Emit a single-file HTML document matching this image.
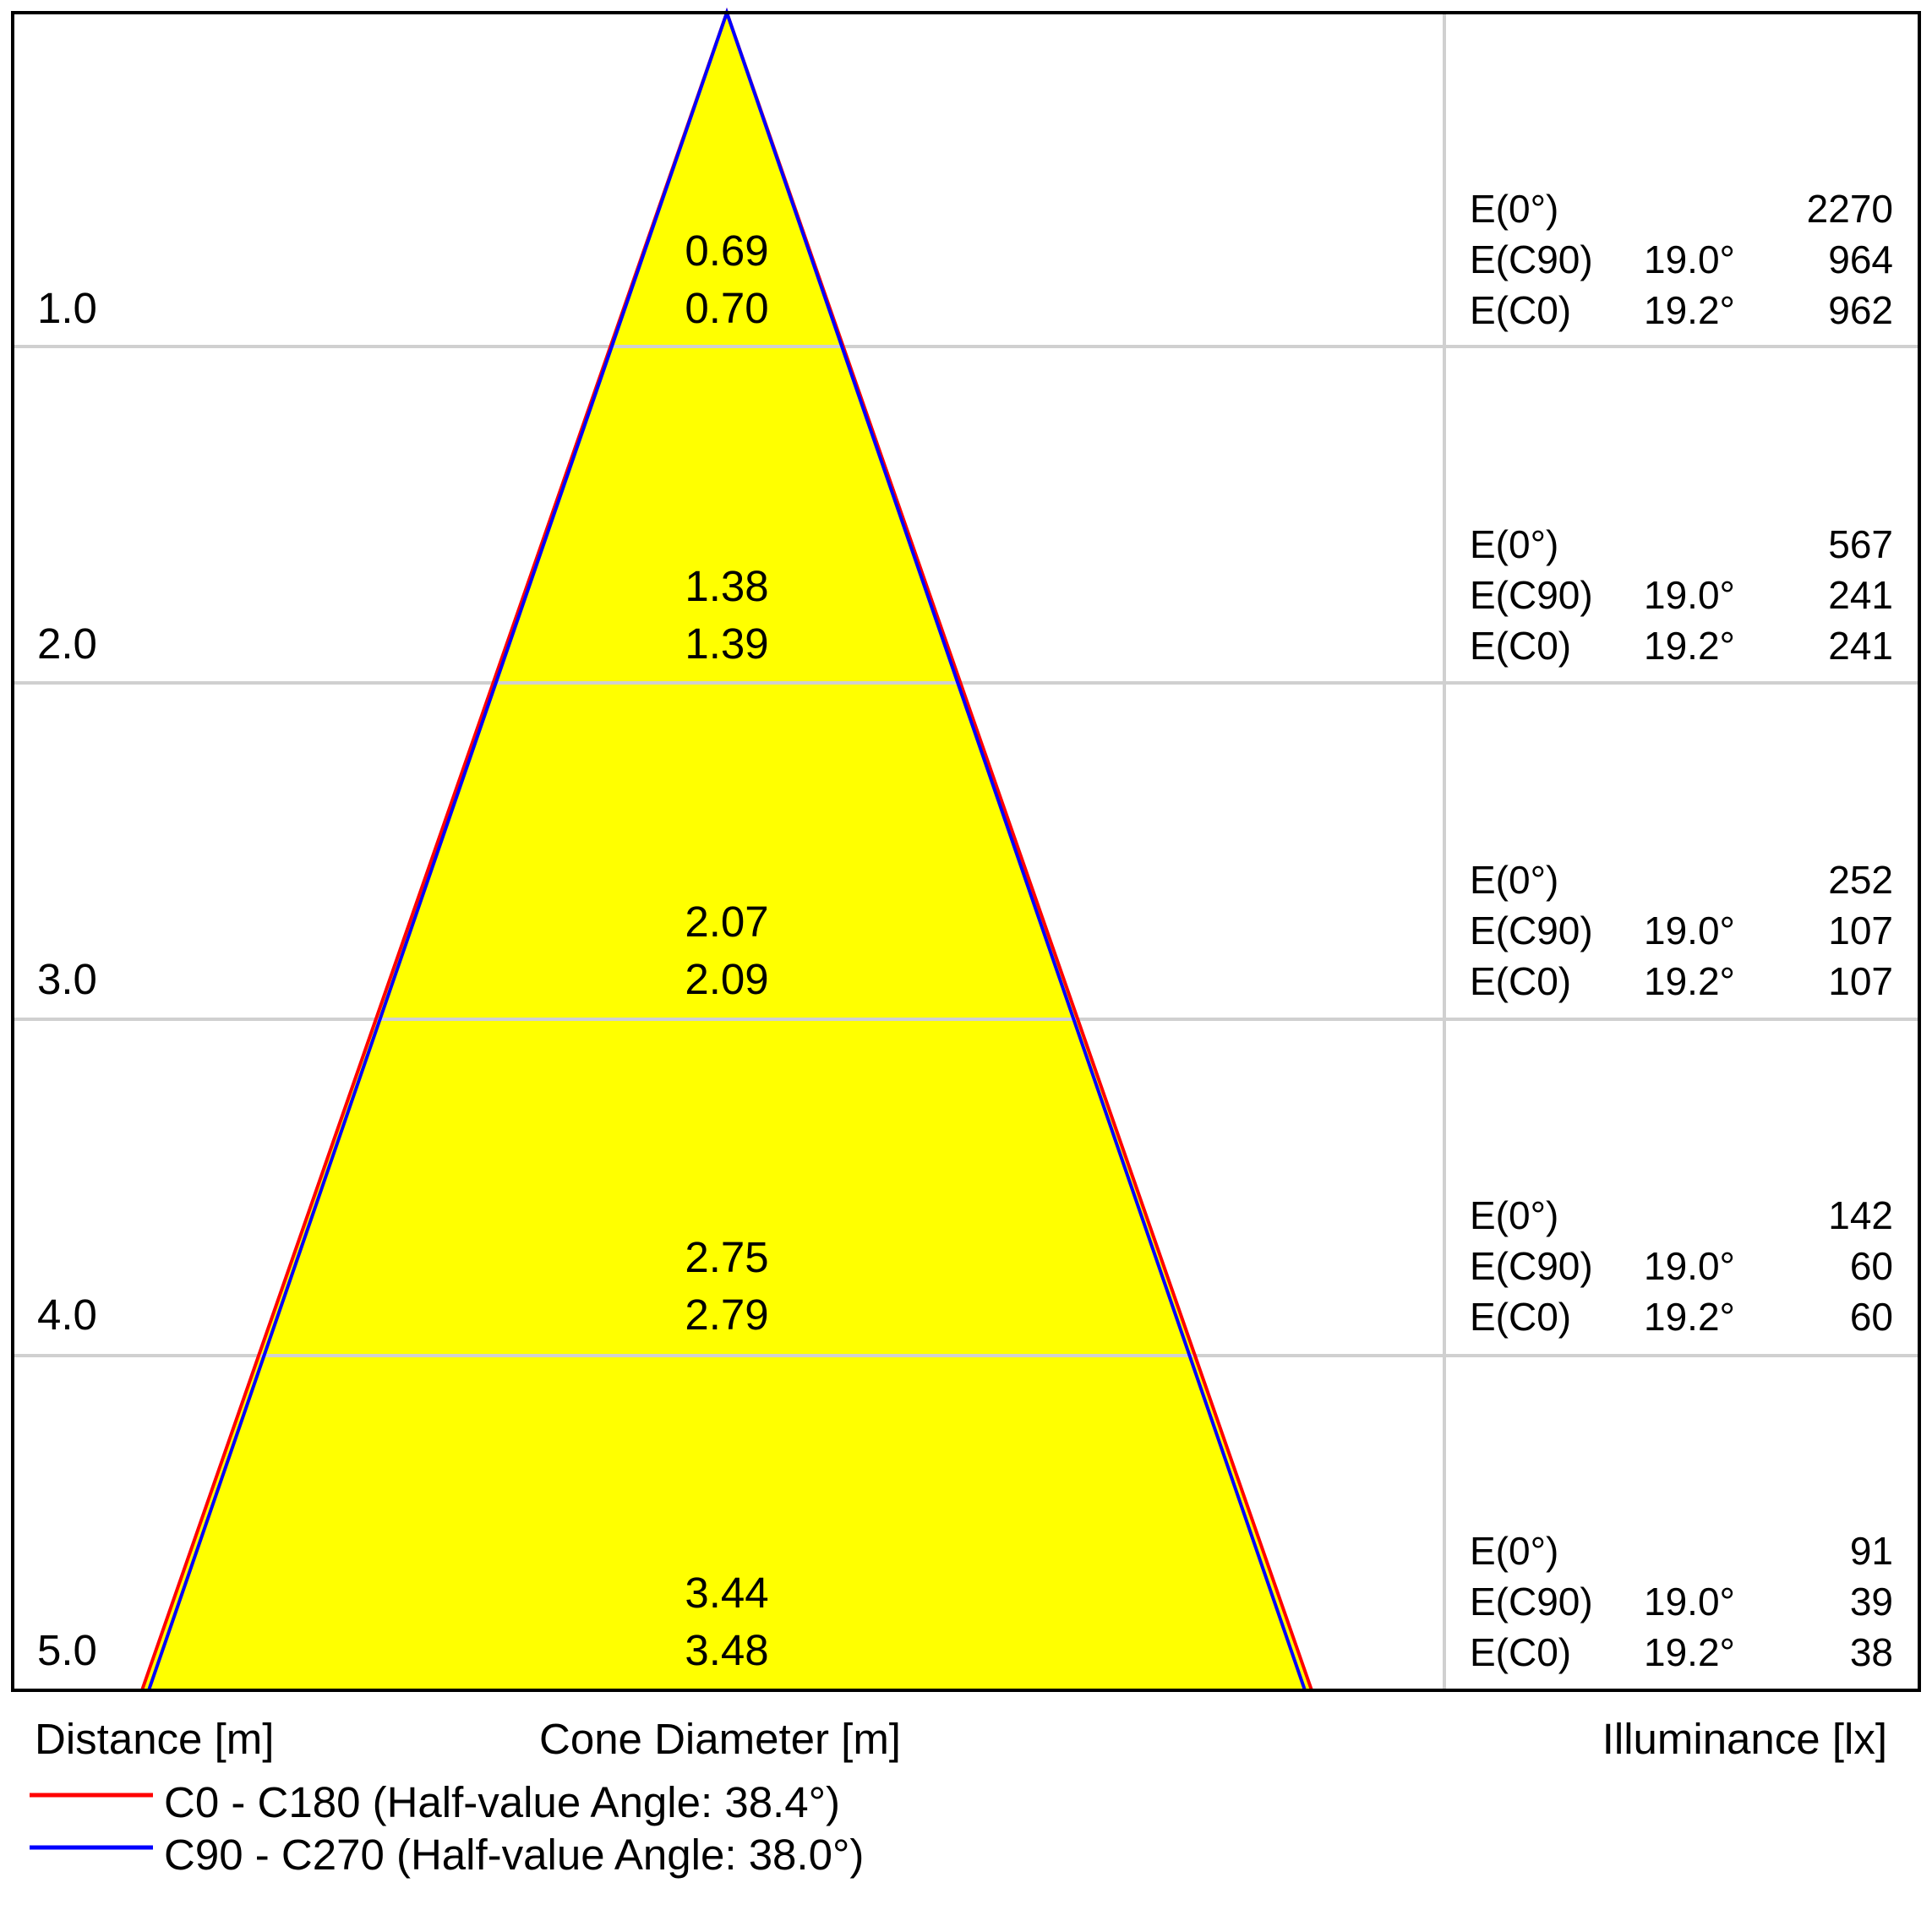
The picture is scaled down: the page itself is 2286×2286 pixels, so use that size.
<!DOCTYPE html>
<html><head><style>
html,body{margin:0;padding:0;background:#fff;}
svg{display:block;}
text{font-family:"Liberation Sans",Arial,sans-serif;fill:#000;}
.l{font-size:51px;}
.r{font-size:46px;}
</style></head><body>
<svg width="2286" height="2286" viewBox="0 0 2286 2286" xmlns="http://www.w3.org/2000/svg">
<rect width="2286" height="2286" fill="#fff"/>
<polygon points="860,15 168,2000 1552,2000" fill="#ffff00"/>
<g stroke="#d0d0d0" stroke-width="4">
<line x1="15" y1="410" x2="2271" y2="410"/>
<line x1="15" y1="808" x2="2271" y2="808"/>
<line x1="15" y1="1206" x2="2271" y2="1206"/>
<line x1="15" y1="1604" x2="2271" y2="1604"/>
<line x1="1709" y1="15" x2="1709" y2="2000"/>
</g>
<polyline points="168,2000 860,15 1552,2000" fill="none" stroke="#ff0000" stroke-width="4"/>
<polyline points="176,2000 860,15 1544,2000" fill="none" stroke="#0000ff" stroke-width="4"/>
<rect x="15" y="15" width="2256" height="1985" fill="none" stroke="#000" stroke-width="4"/>
<g class="l">
<text x="44" y="382">1.0</text>
<text x="44" y="779">2.0</text>
<text x="44" y="1176">3.0</text>
<text x="44" y="1573">4.0</text>
<text x="44" y="1970">5.0</text>
</g>
<g class="l" text-anchor="middle">
<text x="860" y="314">0.69</text><text x="860" y="382">0.70</text>
<text x="860" y="711">1.38</text><text x="860" y="779">1.39</text>
<text x="860" y="1108">2.07</text><text x="860" y="1176">2.09</text>
<text x="860" y="1505">2.75</text><text x="860" y="1573">2.79</text>
<text x="860" y="1902">3.44</text><text x="860" y="1970">3.48</text>
</g>
<g class="r">
<text x="1739" y="263">E(0°)</text><text x="1739" y="323">E(C90)</text><text x="1739" y="383">E(C0)</text>
<text x="1945" y="323">19.0°</text><text x="1945" y="383">19.2°</text>
<text x="1739" y="660">E(0°)</text><text x="1739" y="720">E(C90)</text><text x="1739" y="780">E(C0)</text>
<text x="1945" y="720">19.0°</text><text x="1945" y="780">19.2°</text>
<text x="1739" y="1057">E(0°)</text><text x="1739" y="1117">E(C90)</text><text x="1739" y="1177">E(C0)</text>
<text x="1945" y="1117">19.0°</text><text x="1945" y="1177">19.2°</text>
<text x="1739" y="1454">E(0°)</text><text x="1739" y="1514">E(C90)</text><text x="1739" y="1574">E(C0)</text>
<text x="1945" y="1514">19.0°</text><text x="1945" y="1574">19.2°</text>
<text x="1739" y="1851">E(0°)</text><text x="1739" y="1911">E(C90)</text><text x="1739" y="1971">E(C0)</text>
<text x="1945" y="1911">19.0°</text><text x="1945" y="1971">19.2°</text>
</g>
<g class="r" text-anchor="end">
<text x="2240" y="263">2270</text><text x="2240" y="323">964</text><text x="2240" y="383">962</text>
<text x="2240" y="660">567</text><text x="2240" y="720">241</text><text x="2240" y="780">241</text>
<text x="2240" y="1057">252</text><text x="2240" y="1117">107</text><text x="2240" y="1177">107</text>
<text x="2240" y="1454">142</text><text x="2240" y="1514">60</text><text x="2240" y="1574">60</text>
<text x="2240" y="1851">91</text><text x="2240" y="1911">39</text><text x="2240" y="1971">38</text>
</g>
<g class="l">
<text x="41" y="2075">Distance [m]</text>
<text x="638" y="2075">Cone Diameter [m]</text>
<text x="2233" y="2075" text-anchor="end">Illuminance [lx]</text>
<text x="194" y="2150">C0 - C180 (Half-value Angle: 38.4°)</text>
<text x="194" y="2212">C90 - C270 (Half-value Angle: 38.0°)</text>
</g>
<line x1="35" y1="2124" x2="181" y2="2124" stroke="#ff0000" stroke-width="5"/>
<line x1="35" y1="2186" x2="181" y2="2186" stroke="#0000ff" stroke-width="5"/>
</svg>
</body></html>
